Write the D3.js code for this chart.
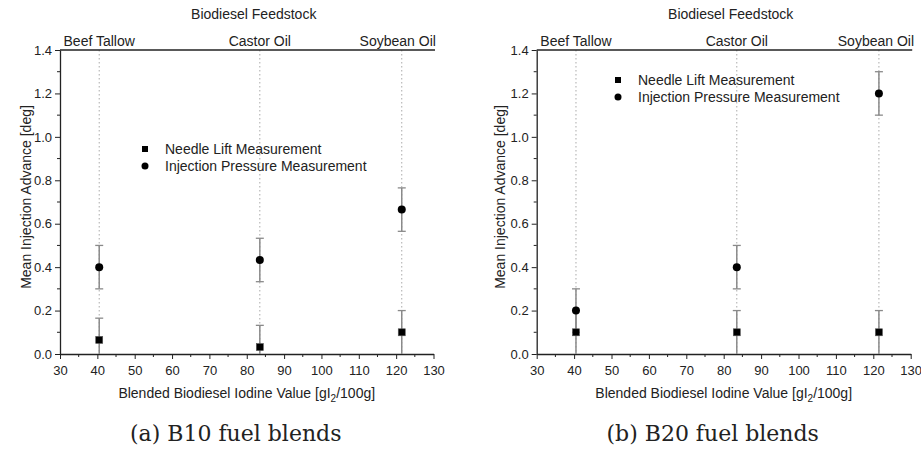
<!DOCTYPE html>
<html><head><meta charset="utf-8">
<script src="https://cdn.jsdelivr.net/npm/d3@7"></script>
<style>body{margin:0;background:#fff}svg{display:block}</style>
</head><body>
<svg id="c" width="921" height="449"></svg>
<script>
const feedstocks = ["Beef Tallow", "Castor Oil", "Soybean Oil"];
const iodineValues = [40.5, 83.5, 121.5];
const b10Needle = [0.065, 0.032, 0.1];
const b10NeedleErr = [0.1, 0.1, 0.1];
const b10Pressure = [0.4, 0.433, 0.665];
const b10PressureErr = [0.1, 0.1, 0.1];
const b20Needle = [0.1, 0.1, 0.1];
const b20NeedleErr = [0.1, 0.1, 0.1];
const b20Pressure = [0.2, 0.4, 1.2];
const b20PressureErr = [0.1, 0.1, 0.1];
const xTicks = [30, 40, 50, 60, 70, 80, 90, 100, 110, 120, 130];
const yTicks = [0.0, 0.2, 0.4, 0.6, 0.8, 1.0, 1.2, 1.4];
const captions = ["(a) B10 fuel blends", "(b) B20 fuel blends"];
const legendLabels = ["Needle Lift Measurement", "Injection Pressure Measurement"];

const svg = d3.select("#c");
const font = "'Liberation Sans', Arial, sans-serif";

const panels = [
  {x0: 60, x1: 433.5, needle: b10Needle, nErr: b10NeedleErr, press: b10Pressure, pErr: b10PressureErr,
   cap: captions[0], legX: 145, legY: 149, ylabX: 26, soyDx: -4},
  {x0: 536.7, x1: 910.7, needle: b20Needle, nErr: b20NeedleErr, press: b20Pressure, pErr: b20PressureErr,
   cap: captions[1], legX: 618, legY: 80, ylabX: 500, soyDx: -3}
];

panels.forEach(p => {
  const g = svg.append("g");
  const x = d3.scaleLinear().domain([30, 130]).range([p.x0, p.x1]);
  const y = d3.scaleLinear().domain([0, 1.4]).range([354, 50]);

  // dotted vertical guide lines
  g.selectAll("line.guide").data(iodineValues).join("line")
    .attr("x1", d => x(d)).attr("x2", d => x(d))
    .attr("y1", y(1.4)).attr("y2", y(0))
    .attr("stroke", "#aaa").attr("stroke-width", 1).attr("stroke-dasharray", "1.5,2.5");

  // minor ticks
  const minorX = d3.range(35, 130, 10);
  g.selectAll("line.mx").data(minorX).join("line")
    .attr("x1", d => x(d)).attr("x2", d => x(d)).attr("y1", 354).attr("y2", 357)
    .attr("stroke", "#222").attr("stroke-width", 1);
  const minorY = [0.1, 0.3, 0.5, 0.7, 0.9, 1.1, 1.3];
  g.selectAll("line.my").data(minorY).join("line")
    .attr("x1", p.x0 - 3).attr("x2", p.x0).attr("y1", d => y(d)).attr("y2", d => y(d))
    .attr("stroke", "#222").attr("stroke-width", 1);

  // axes
  const xa = g.append("g").attr("transform", "translate(0,354)")
    .call(d3.axisBottom(x).tickValues(xTicks).tickFormat(d3.format("d")).tickSize(5).tickSizeOuter(0));
  const ya = g.append("g").attr("transform", `translate(${p.x0},0)`)
    .call(d3.axisLeft(y).tickValues(yTicks).tickFormat(d3.format(".1f")).tickSize(5).tickSizeOuter(0));
  [xa, ya].forEach(a => {
    a.select(".domain").attr("stroke", "#222").attr("stroke-width", 1.3);
    a.selectAll(".tick line").attr("stroke", "#222").attr("stroke-width", 1);
    a.selectAll(".tick text").attr("font-family", font).attr("font-size", 13).attr("fill", "#222");
  });
  xa.selectAll(".tick text").attr("dy", "1em");

  // top axis line
  g.append("line").attr("x1", p.x0).attr("x2", p.x1 + 1.5).attr("y1", y(1.4)).attr("y2", y(1.4))
    .attr("stroke", "#222").attr("stroke-width", 1.3);

  // top category labels
  g.selectAll("text.cat").data(feedstocks).join("text")
    .attr("x", (d, i) => x(iodineValues[i]) + (i === 2 ? p.soyDx : 0))
    .attr("y", 46).attr("text-anchor", "middle")
    .attr("font-family", font).attr("font-size", 14).attr("fill", "#222").text(d => d);
  g.append("text").attr("x", (p.x0 + p.x1) / 2 + 7).attr("y", 19).attr("text-anchor", "middle")
    .attr("font-family", font).attr("font-size", 14).attr("fill", "#222").text("Biodiesel Feedstock");

  // axis labels
  const xl = g.append("text").attr("x", (p.x0 + p.x1) / 2).attr("y", 398).attr("text-anchor", "middle")
    .attr("font-family", font).attr("font-size", 14).attr("fill", "#222");
  xl.append("tspan").text("Blended Biodiesel Iodine Value [gI");
  xl.append("tspan").attr("font-size", 10).attr("dy", 4).text("2");
  xl.append("tspan").attr("dy", -4).text("/100g]");
  g.append("text").attr("transform", `translate(${p.ylabX},197) rotate(-90)`)
    .attr("text-anchor", "middle").attr("dy", "0.35em")
    .attr("font-family", font).attr("font-size", 14).attr("fill", "#222")
    .text("Mean Injection Advance [deg]");

  // error bars first, then markers
  const series = [
    {vals: p.needle, errs: p.nErr, shape: "square"},
    {vals: p.press, errs: p.pErr, shape: "circle"}
  ];
  const ebLayer = g.append("g");
  const mkLayer = g.append("g");
  series.forEach(s => {
    const data = iodineValues.map((xv, i) => ({x: xv, v: s.vals[i], e: s.errs[i]}));
    const eb = ebLayer.append("g");
    eb.selectAll("line.v").data(data).join("line")
      .attr("x1", d => x(d.x)).attr("x2", d => x(d.x))
      .attr("y1", d => y(Math.max(0, d.v - d.e))).attr("y2", d => y(d.v + d.e))
      .attr("stroke", "#8a8a8a").attr("stroke-width", 1.5);
    ["lo", "hi"].forEach(k => {
      eb.selectAll("line.c" + k).data(data.filter(d => k === "hi" || d.v - d.e > 0.001)).join("line")
        .attr("x1", d => x(d.x) - 4).attr("x2", d => x(d.x) + 4)
        .attr("y1", d => y(k === "hi" ? d.v + d.e : d.v - d.e))
        .attr("y2", d => y(k === "hi" ? d.v + d.e : d.v - d.e))
        .attr("stroke", "#8a8a8a").attr("stroke-width", 1.3);
    });
    if (s.shape === "square") {
      mkLayer.selectAll(null).data(data).join("rect")
        .attr("x", d => x(d.x) - 3.5).attr("y", d => y(d.v) - 3.5).attr("width", 7).attr("height", 7)
        .attr("fill", "#000").attr("stroke", "#555").attr("stroke-width", 0.6);
    } else {
      mkLayer.selectAll(null).data(data).join("circle")
        .attr("cx", d => x(d.x)).attr("cy", d => y(d.v)).attr("r", 4)
        .attr("fill", "#000");
    }
  });

  // legend
  const lg = g.append("g");
  lg.append("rect").attr("x", p.legX - 3).attr("y", p.legY - 3).attr("width", 6).attr("height", 6).attr("fill", "#000");
  lg.append("circle").attr("cx", p.legX).attr("cy", p.legY + 17).attr("r", 3.5).attr("fill", "#000");
  legendLabels.forEach((t, i) => {
    lg.append("text").attr("x", p.legX + 20).attr("y", p.legY + i * 17).attr("dy", "0.35em")
      .attr("font-family", font).attr("font-size", 14).attr("fill", "#222").text(t);
  });

  // caption
  g.append("text").attr("x", (p.x0 + p.x1) / 2 - 11).attr("y", 441).attr("text-anchor", "middle")
    .attr("font-family", "'DejaVu Serif', 'Liberation Serif', serif").attr("font-size", 22).attr("fill", "#222")
    .text(p.cap);
});
</script>
</body></html>
